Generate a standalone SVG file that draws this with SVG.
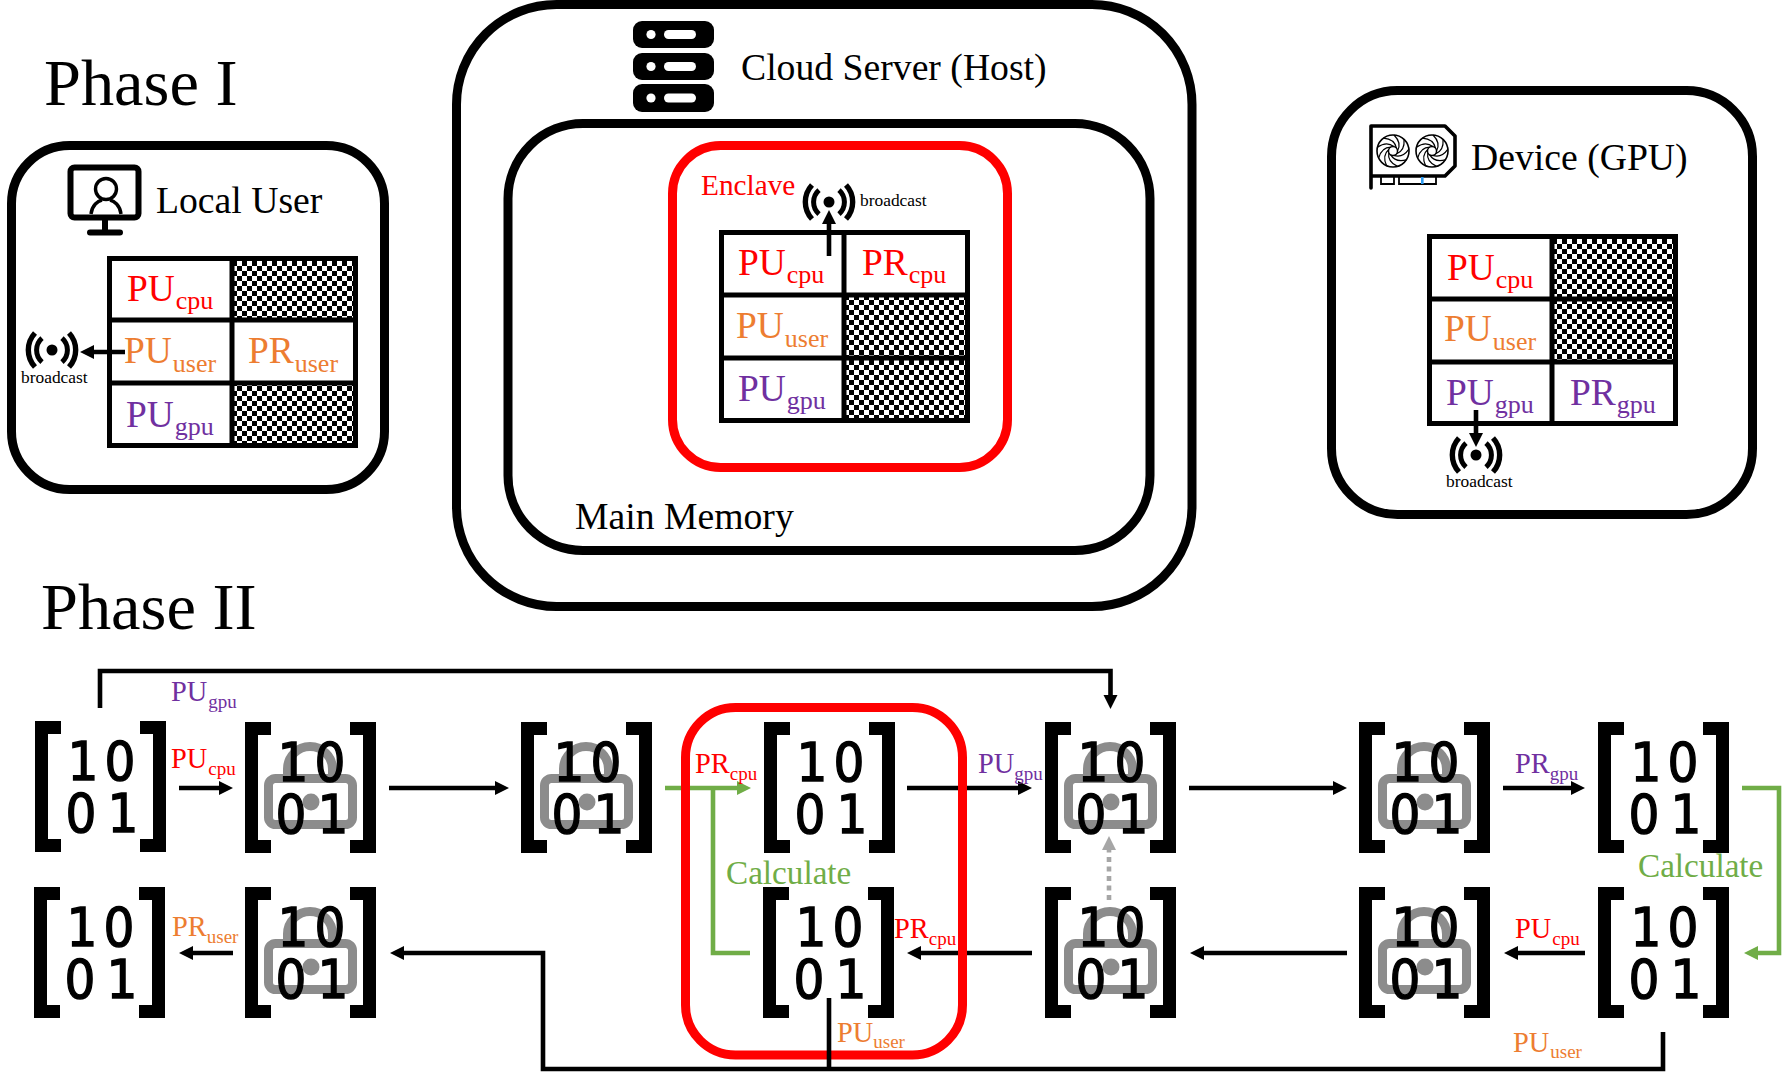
<svg xmlns="http://www.w3.org/2000/svg" xmlns:xlink="http://www.w3.org/1999/xlink" width="1785" height="1079" viewBox="0 0 1785 1079">
<style>
text{font-family:"Liberation Serif","Times New Roman",serif}
.title{font-size:66.4px;fill:#000}
.head{font-size:37.7px;fill:#000}
.bc{font-size:17.4px;fill:#000}
.calc{font-size:33.2px;fill:#70ad47}
.big{font-size:37.4px}
.big tspan{font-size:26px}
.small{font-size:28.4px}
.small tspan{font-size:19px}
.red{fill:#ff0000}
.org{fill:#ed7d31}
.pur{fill:#7030a0}
.frame{fill:none;stroke:#000;stroke-width:9}
.rframe{fill:none;stroke:#ff0000;stroke-width:9}
.grid{fill:none;stroke:#000;stroke-width:5}
.chk{fill:url(#checker)}
.dig{font-family:"DejaVu Sans Condensed","DejaVu Sans",sans-serif;font-stretch:condensed;font-size:54px;fill:#000;stroke:#000;stroke-width:1.3;text-anchor:middle}
.line{fill:none;stroke:#000;stroke-width:4.6}
.gline{fill:none;stroke:#70ad47;stroke-width:4.6}
</style>
<defs>
<pattern id="checker" width="10" height="10" patternUnits="userSpaceOnUse">
<rect width="10" height="10" fill="#fff"/>
<rect width="5" height="5" fill="#000"/>
<rect x="5" y="5" width="5" height="5" fill="#000"/>
</pattern>
<marker id="ak" markerUnits="userSpaceOnUse" markerWidth="16" markerHeight="16" refX="2" refY="7.5" orient="auto"><path d="M0 0.5 L14 7.5 L0 14.5Z" fill="#000"/></marker>
<marker id="ag" markerUnits="userSpaceOnUse" markerWidth="16" markerHeight="16" refX="2" refY="7.5" orient="auto"><path d="M0 0.5 L14 7.5 L0 14.5Z" fill="#70ad47"/></marker>
<marker id="ay" markerUnits="userSpaceOnUse" markerWidth="16" markerHeight="16" refX="2" refY="7.5" orient="auto"><path d="M0 0.5 L14 7.5 L0 14.5Z" fill="#a6a6a6"/></marker>
<path id="brackets" d="M0 0H26V13H13V118H26V131H0ZM131 0H105V13H118V118H105V131H131Z" fill="#000"/>
<g id="lock" fill="none" stroke="#8c8c8c" stroke-width="9">
<rect x="23.5" y="56.5" width="84" height="46" rx="7"/>
<path d="M42.5 53V47A22.5 22.5 0 0 1 87.5 47V53"/>
<circle cx="66" cy="80" r="8.5" fill="#8c8c8c" stroke="none"/>
</g>
<g id="signal" fill="none" stroke="#000" stroke-width="5">
<circle r="5.5" fill="#000" stroke="none"/>
<path d="M-10-12A16 16 0 0 0-10 12M10-12A16 16 0 0 1 10 12"/>
<path d="M-17-17A25 25 0 0 0-17 17M17-17A25 25 0 0 1 17 17" stroke-width="5.4"/>
</g>
<path id="blade" d="M4.5 0Q9-8 1-16" fill="none" stroke="#000" stroke-width="1.2"/>
<g id="fan">
<circle r="16" fill="none" stroke="#000" stroke-width="1.6"/>
<circle r="4.5" fill="none" stroke="#000" stroke-width="1.4"/>
<use href="#blade"/><use href="#blade" transform="rotate(40)"/><use href="#blade" transform="rotate(80)"/><use href="#blade" transform="rotate(120)"/><use href="#blade" transform="rotate(160)"/><use href="#blade" transform="rotate(200)"/><use href="#blade" transform="rotate(240)"/><use href="#blade" transform="rotate(280)"/><use href="#blade" transform="rotate(320)"/>
</g>
</defs>
<rect width="1785" height="1079" fill="#fff"/>

<text class="title" x="44" y="105">Phase I</text>
<text class="title" x="41" y="629">Phase II</text>

<!-- Local user panel -->
<g id="local-user">
<rect class="frame" x="11.5" y="145.5" width="373" height="344" rx="58"/>
<g id="icon-monitor">
<rect x="70.5" y="167.5" width="68" height="50" rx="4" fill="none" stroke="#000" stroke-width="6"/>
<circle cx="106" cy="189" r="10.5" fill="none" stroke="#000" stroke-width="3.4"/>
<path d="M91 214C92 205 98 201 102 200M121 214C120 205 114 201 110 200" fill="none" stroke="#000" stroke-width="3.4"/>
<path d="M105 220V231M90 232.5H120" fill="none" stroke="#000" stroke-width="6" stroke-linecap="round"/>
</g>
<text class="head" x="156" y="213">Local User</text>
<g transform="translate(107 256)">
<rect class="chk" x="125" y="2" width="124" height="62"/>
<rect class="chk" x="125" y="127" width="124" height="63"/>
<path class="grid" d="M2.5 2.5H248.5V189.5H2.5ZM2.5 64H248.5M2.5 127H248.5M125 2.5V189.5"/>
<text class="big red" x="20" y="45">PU<tspan dx="1" dy="8">cpu</tspan></text>
<text class="big org" x="17" y="107">PU<tspan dx="1" dy="9">user</tspan></text>
<text class="big org" x="141" y="107">PR<tspan dx="1" dy="9">user</tspan></text>
<text class="big pur" x="19" y="171">PU<tspan dx="1" dy="8">gpu</tspan></text>
</g>
<use href="#signal" x="52" y="350"/>
<path class="line" d="M125 352H92" marker-end="url(#ak)"/>
<text class="bc" x="21" y="383">broadcast</text>
</g>

<!-- Cloud server panel with main memory and enclave -->
<g id="cloud-server">
<rect class="frame" x="456.5" y="4.5" width="735.5" height="602" rx="100"/>
<g id="icon-server" fill="#000">
<rect x="633" y="21" width="81" height="27" rx="9"/>
<rect x="633" y="53" width="81" height="27" rx="9"/>
<rect x="633" y="84" width="81" height="28" rx="9"/>
<g fill="#fff">
<circle cx="651" cy="34.5" r="4.6"/><rect x="664" y="30" width="32" height="9" rx="4.5"/>
<circle cx="651" cy="66.5" r="4.6"/><rect x="664" y="62" width="32" height="9" rx="4.5"/>
<circle cx="651" cy="98" r="4.6"/><rect x="664" y="93.5" width="32" height="9" rx="4.5"/>
</g>
</g>
<text class="head" x="741" y="80">Cloud Server (Host)</text>
</g>
<g id="main-memory">
<rect class="frame" x="508" y="123.5" width="642" height="427" rx="75"/>
<text class="head" x="575" y="529">Main Memory</text>
</g>
<g id="enclave">
<rect class="rframe" x="672.5" y="145.5" width="335" height="322" rx="48"/>
<text x="701" y="195" font-size="29.3" fill="#ff0000">Enclave</text>
<g transform="translate(719 230)">
<rect class="chk" x="125" y="65" width="124" height="63"/>
<rect class="chk" x="125" y="128" width="124" height="63"/>
<path class="grid" d="M2.5 2.5H248.5V190.5H2.5ZM2.5 65H248.5M2.5 128H248.5M125 2.5V190.5"/>
<text class="big red" x="19" y="45">PU<tspan dx="1" dy="8">cpu</tspan></text>
<text class="big red" x="143" y="45">PR<tspan dx="1" dy="8">cpu</tspan></text>
<text class="big org" x="17" y="108">PU<tspan dx="1" dy="9">user</tspan></text>
<text class="big pur" x="19" y="171">PU<tspan dx="1" dy="8">gpu</tspan></text>
</g>
<use href="#signal" x="829" y="202"/>
<path class="line" d="M829 256V222" marker-end="url(#ak)"/>
<text class="bc" x="860" y="206">broadcast</text>
</g>

<!-- GPU device panel -->
<g id="device">
<rect class="frame" x="1331.5" y="90.5" width="421" height="424" rx="66"/>
<g id="icon-gpu">
<path d="M1371 188V126H1445L1455 136V166L1445 176H1372" fill="none" stroke="#000" stroke-width="3.6" stroke-linecap="round" stroke-linejoin="round"/>
<path d="M1381 177V184H1394V177M1399 177V184H1436V177" fill="none" stroke="#000" stroke-width="1.8"/>
<rect x="1421" y="177" width="2.6" height="7" fill="#2e9bf0"/>
<use href="#fan" x="1393" y="151"/>
<use href="#fan" x="1432" y="151"/>
</g>
<text class="head" x="1471" y="170">Device (GPU)</text>
<g transform="translate(1427 234)">
<rect class="chk" x="125" y="2" width="124" height="63"/>
<rect class="chk" x="125" y="65" width="124" height="63"/>
<path class="grid" d="M2.5 2.5H248.5V189.5H2.5ZM2.5 65H248.5M2.5 128H248.5M125 2.5V189.5"/>
<text class="big red" x="20" y="46">PU<tspan dx="1" dy="8">cpu</tspan></text>
<text class="big org" x="17" y="107">PU<tspan dx="1" dy="9">user</tspan></text>
<text class="big pur" x="19" y="171">PU<tspan dx="1" dy="8">gpu</tspan></text>
<text class="big pur" x="143" y="171">PR<tspan dx="1" dy="8">gpu</tspan></text>
</g>
<use href="#signal" x="1476" y="455"/>
<path class="line" d="M1476 410V435" marker-end="url(#ak)"/>
<text class="bc" x="1446" y="487">broadcast</text>
</g>

<!-- Matrix states of the second phase -->
<g id="m-top-1" transform="translate(35 721)"><use href="#brackets"/><text class="dig" x="48 85 46 88" y="59 59 111 111">1001</text></g>
<g id="m-top-2" transform="translate(245 722)"><use href="#brackets"/><use href="#lock"/><text class="dig" x="48 85 46 88" y="59 59 111 111">1001</text></g>
<g id="m-top-3" transform="translate(521 722)"><use href="#brackets"/><use href="#lock"/><text class="dig" x="48 85 46 88" y="59 59 111 111">1001</text></g>
<g id="m-top-4" transform="translate(764 722)"><use href="#brackets"/><text class="dig" x="48 85 46 88" y="59 59 111 111">1001</text></g>
<g id="m-top-5" transform="translate(1045 722)"><use href="#brackets"/><use href="#lock"/><text class="dig" x="48 85 46 88" y="59 59 111 111">1001</text></g>
<g id="m-top-6" transform="translate(1359 722)"><use href="#brackets"/><use href="#lock"/><text class="dig" x="48 85 46 88" y="59 59 111 111">1001</text></g>
<g id="m-top-7" transform="translate(1598 722)"><use href="#brackets"/><text class="dig" x="48 85 46 88" y="59 59 111 111">1001</text></g>
<g id="m-bot-1" transform="translate(34 887)"><use href="#brackets"/><text class="dig" x="48 85 46 88" y="59 59 111 111">1001</text></g>
<g id="m-bot-2" transform="translate(245 887)"><use href="#brackets"/><use href="#lock"/><text class="dig" x="48 85 46 88" y="59 59 111 111">1001</text></g>
<g id="m-bot-4" transform="translate(763 887)"><use href="#brackets"/><text class="dig" x="48 85 46 88" y="59 59 111 111">1001</text></g>
<g id="m-bot-5" transform="translate(1045 887)"><use href="#brackets"/><use href="#lock"/><text class="dig" x="48 85 46 88" y="59 59 111 111">1001</text></g>
<g id="m-bot-6" transform="translate(1359 887)"><use href="#brackets"/><use href="#lock"/><text class="dig" x="48 85 46 88" y="59 59 111 111">1001</text></g>
<g id="m-bot-7" transform="translate(1598 887)"><use href="#brackets"/><text class="dig" x="48 85 46 88" y="59 59 111 111">1001</text></g>

<!-- Arrows between matrix states -->
<g id="connectors">
<path class="line" d="M100 708V671H1110.5V697" marker-end="url(#ak)"/>
<path class="line" d="M179 788H221" marker-end="url(#ak)"/>
<path class="line" d="M389 788H497" marker-end="url(#ak)"/>
<path class="line" d="M907 788H1020" marker-end="url(#ak)"/>
<path class="line" d="M1189 788H1335" marker-end="url(#ak)"/>
<path class="line" d="M1503 788H1573" marker-end="url(#ak)"/>
<path class="line" d="M233 953H191" marker-end="url(#ak)"/>
<path class="line" d="M1032 953H919" marker-end="url(#ak)"/>
<path class="line" d="M1347 953H1202" marker-end="url(#ak)"/>
<path class="line" d="M1585 953H1516" marker-end="url(#ak)"/>
<path class="line" d="M1663 1032V1069H543V953H402" marker-end="url(#ak)"/>
<path class="gline" d="M665 788H739" marker-end="url(#ag)"/>
<path class="gline" d="M713 788V953H750"/>
<path class="gline" d="M1742 788H1779V953H1756" marker-end="url(#ag)"/>
<path d="M1109 900V848" fill="none" stroke="#a6a6a6" stroke-width="4.6" stroke-dasharray="5 4.5" marker-end="url(#ay)"/>
</g>
<g id="enclave-phase-two">
<rect class="rframe" x="685.5" y="707.5" width="277" height="347.5" rx="50"/>
</g>
<g id="connector-drop">
<path class="line" d="M829 998V1069"/>
</g>

<!-- Arrow labels -->
<g id="labels">
<text class="small pur" x="171" y="701">PU<tspan dx="1" dy="7">gpu</tspan></text>
<text class="small red" x="171" y="768">PU<tspan dx="1" dy="7">cpu</tspan></text>
<text class="small org" x="172" y="936">PR<tspan dy="7">user</tspan></text>
<text class="small red" x="695" y="773">PR<tspan dy="7">cpu</tspan></text>
<text class="small pur" x="978" y="773">PU<tspan dy="7">gpu</tspan></text>
<text class="small red" x="894" y="938">PR<tspan dy="7">cpu</tspan></text>
<text class="small org" x="837" y="1042">PU<tspan dy="6">user</tspan></text>
<text class="small pur" x="1515" y="773">PR<tspan dy="7">gpu</tspan></text>
<text class="small red" x="1515" y="938">PU<tspan dx="1" dy="7">cpu</tspan></text>
<text class="small org" x="1513" y="1052">PU<tspan dx="1" dy="6">user</tspan></text>
<text class="calc" x="726" y="884">Calculate</text>
<text class="calc" x="1638" y="877">Calculate</text>
</g>
</svg>
